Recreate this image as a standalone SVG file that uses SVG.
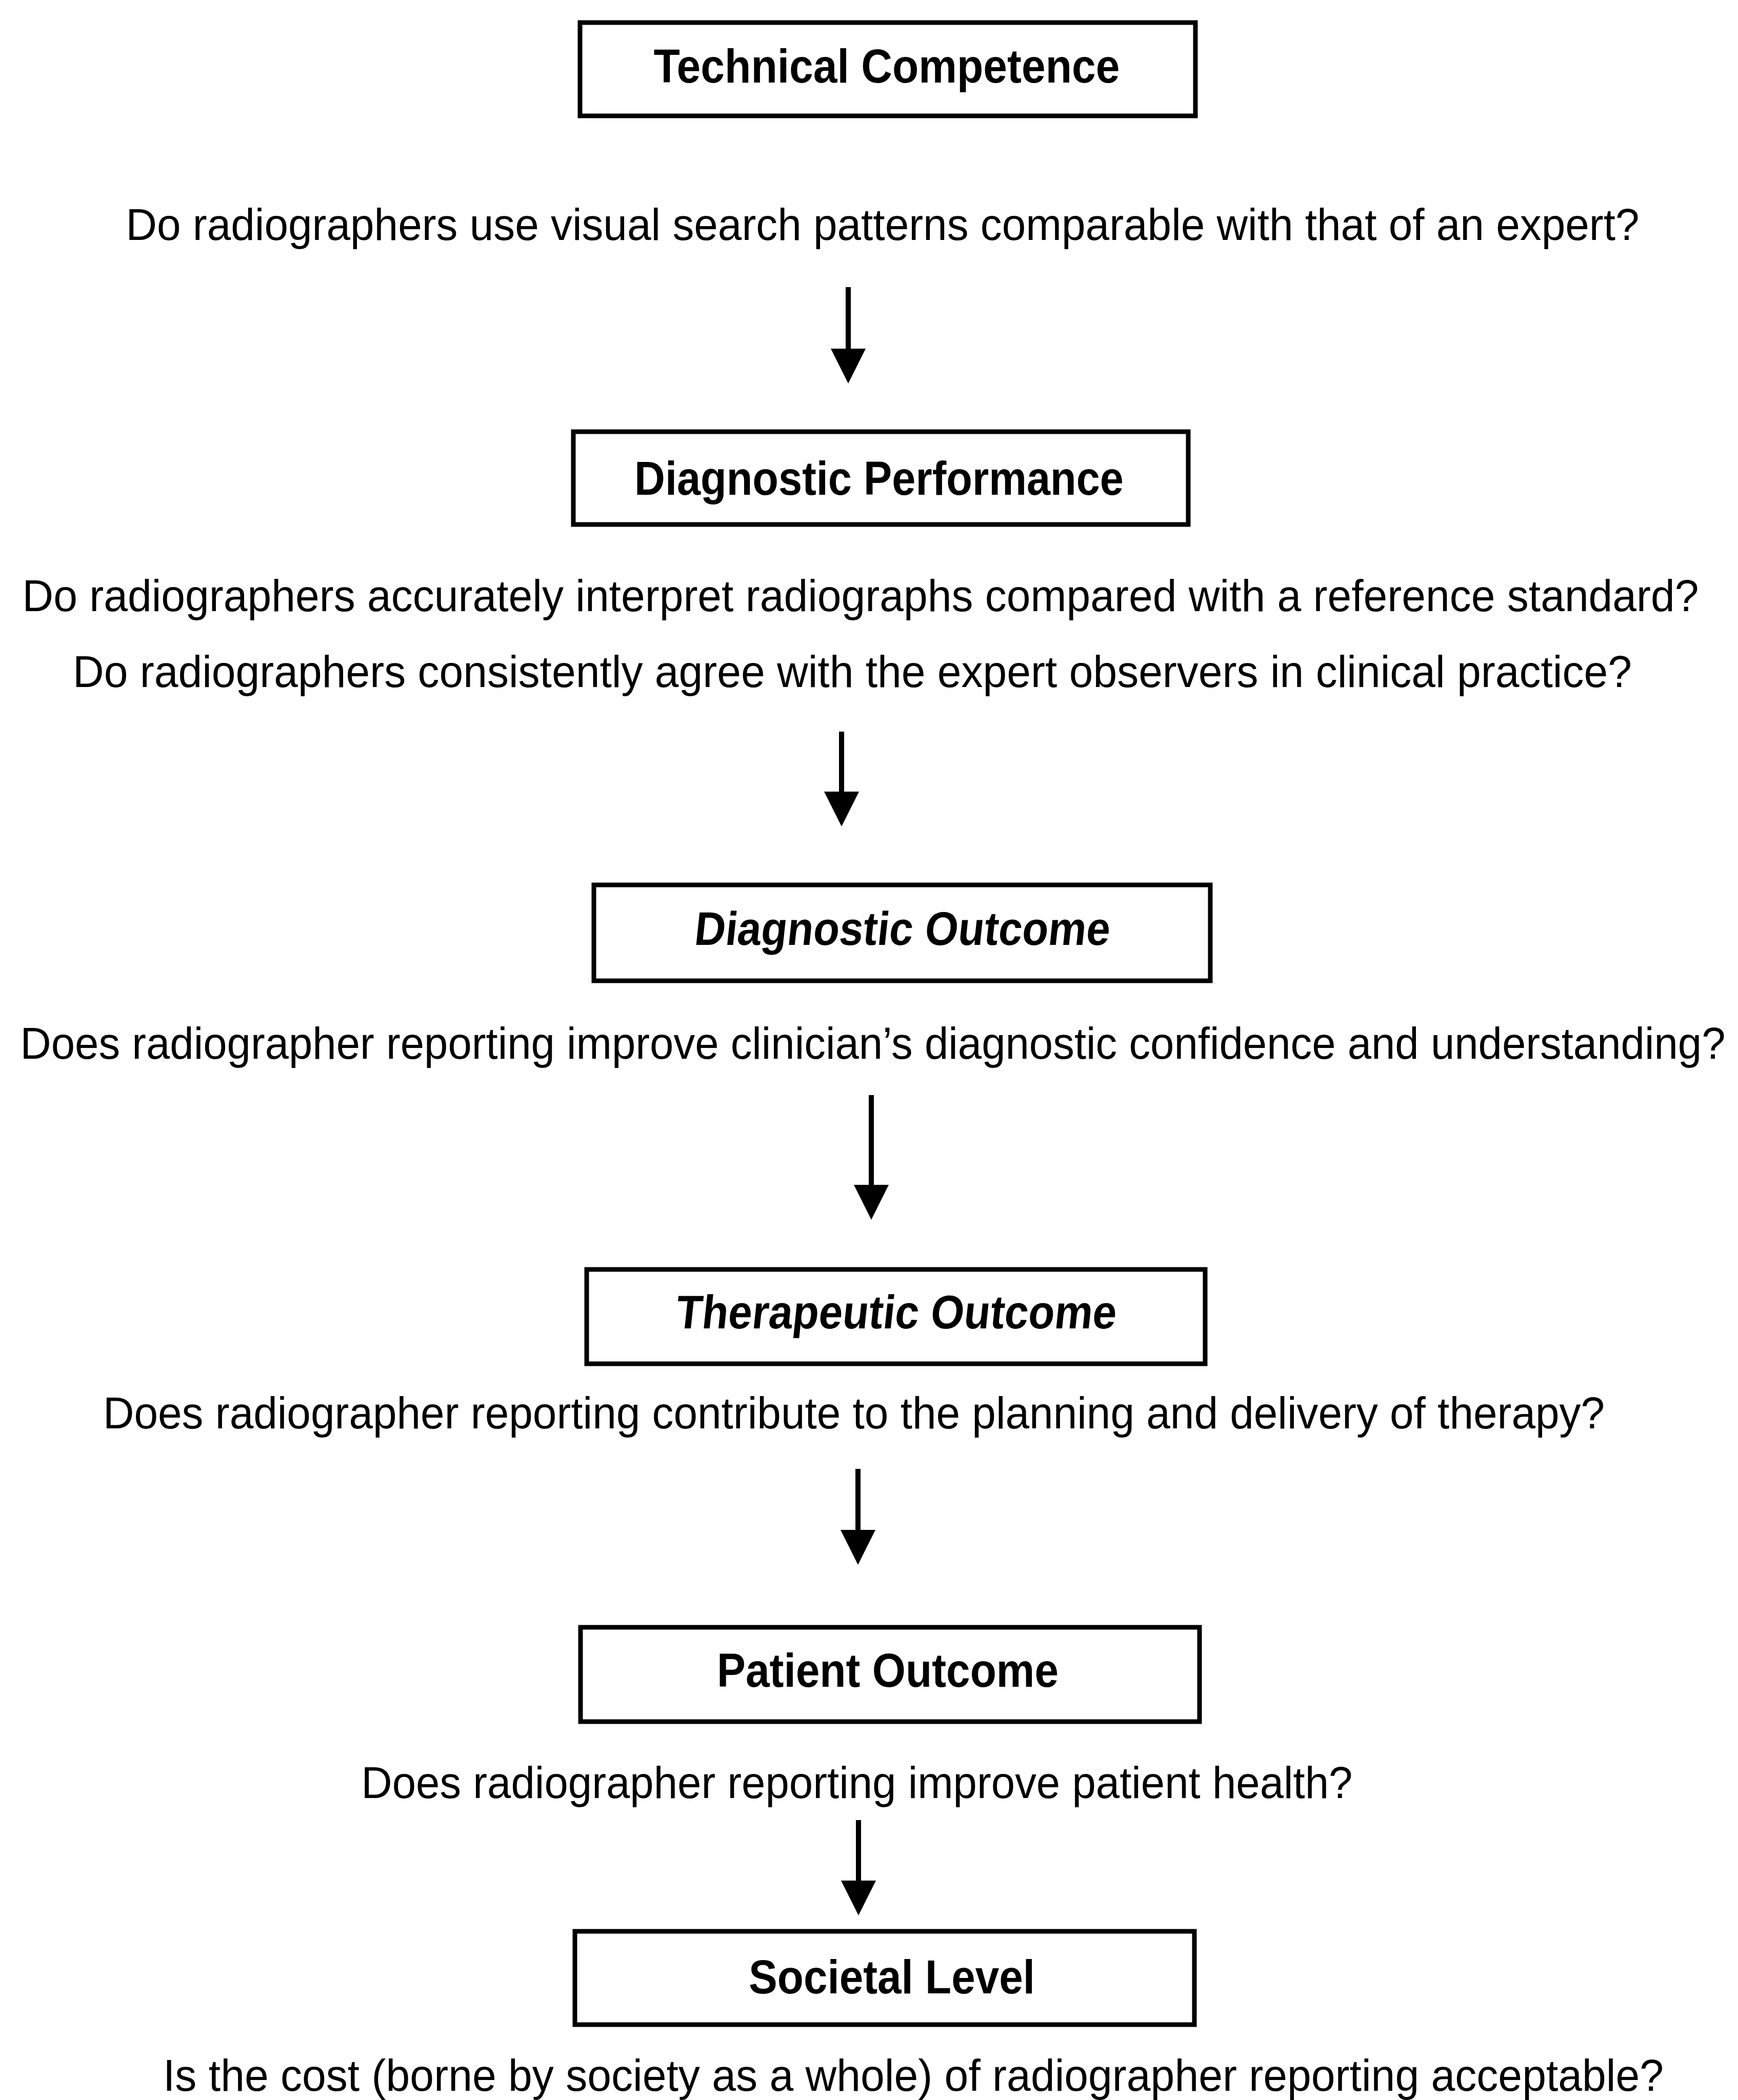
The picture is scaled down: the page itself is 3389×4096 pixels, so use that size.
<svg xmlns="http://www.w3.org/2000/svg" width="3389" height="4096" viewBox="0 0 3389 4096">
  <style>
    .box { fill: #ffffff; stroke: #000000; stroke-width: 9; }
    .title { font-family: "Liberation Sans", Arial, sans-serif; font-weight: bold; font-size: 92px; fill: #000000; text-anchor: middle; }
    .question { font-family: "Liberation Sans", Arial, sans-serif; font-size: 87px; fill: #000000; text-anchor: middle; }
    .shaft { stroke: #000000; stroke-width: 10; fill: none; }
  </style>
  <defs>
    <marker id="head" viewBox="0 -34 68 68" refX="0" refY="0" markerWidth="68" markerHeight="68" markerUnits="userSpaceOnUse" orient="auto">
      <polygon points="0,-34 68,0 0,34" fill="#000000"/>
    </marker>
  </defs>
  <rect width="3389" height="4096" fill="#ffffff"/>

  <!-- Level 1 -->
  <g id="technical-competence">
    <rect class="box" x="1131" y="44" width="1200" height="182"/>
    <text class="title" x="1729" y="161" textLength="909" lengthAdjust="spacingAndGlyphs">Technical Competence</text>
  </g>
  <text class="question" x="1721" y="468" textLength="2951" lengthAdjust="spacingAndGlyphs">Do radiographers use visual search patterns comparable with that of an expert?</text>

  <!-- Level 2 -->
  <g id="diagnostic-performance">
    <rect class="box" x="1118" y="842" width="1199" height="181"/>
    <text class="title" x="1714" y="965" textLength="954" lengthAdjust="spacingAndGlyphs">Diagnostic Performance</text>
  </g>
  <text class="question" x="1678" y="1192" textLength="3269" lengthAdjust="spacingAndGlyphs">Do radiographers accurately interpret radiographs compared with a reference standard?</text>
  <text class="question" x="1662" y="1340" textLength="3040" lengthAdjust="spacingAndGlyphs">Do radiographers consistently agree with the expert observers in clinical practice?</text>

  <!-- Level 3 -->
  <g id="diagnostic-outcome">
    <rect class="box" x="1158" y="1726" width="1202" height="187"/>
    <text class="title" transform="translate(1757,1843) skewX(-6)" x="0" y="0" textLength="810" lengthAdjust="spacingAndGlyphs">Diagnostic Outcome</text>
  </g>
  <text class="question" x="1702" y="2065" textLength="3325" lengthAdjust="spacingAndGlyphs">Does radiographer reporting improve clinician’s diagnostic confidence and understanding?</text>

  <!-- Level 4 -->
  <g id="therapeutic-outcome">
    <rect class="box" x="1144" y="2476" width="1206" height="184"/>
    <text class="title" transform="translate(1745,2591) skewX(-6)" x="0" y="0" textLength="859" lengthAdjust="spacingAndGlyphs">Therapeutic Outcome</text>
  </g>
  <text class="question" x="1665" y="2786" textLength="2928" lengthAdjust="spacingAndGlyphs">Does radiographer reporting contribute to the planning and delivery of therapy?</text>

  <!-- Level 5 -->
  <g id="patient-outcome">
    <rect class="box" x="1132" y="3174" width="1207" height="184"/>
    <text class="title" x="1731" y="3290" textLength="666" lengthAdjust="spacingAndGlyphs">Patient Outcome</text>
  </g>
  <text class="question" x="1671" y="3507" textLength="1933" lengthAdjust="spacingAndGlyphs">Does radiographer reporting improve patient health?</text>

  <!-- Level 6 -->
  <g id="societal-level">
    <rect class="box" x="1121" y="3767" width="1208" height="182"/>
    <text class="title" x="1739" y="3888" textLength="558" lengthAdjust="spacingAndGlyphs">Societal Level</text>
  </g>
  <text class="question" x="1781" y="4078" textLength="2926" lengthAdjust="spacingAndGlyphs">Is the cost (borne by society as a whole) of radiographer reporting acceptable?</text>

  <!-- Downward arrows between levels -->
  <g id="connectors">
    <line class="shaft" x1="1654" y1="560" x2="1654" y2="680" marker-end="url(#head)"/>
    <line class="shaft" x1="1641" y1="1427" x2="1641" y2="1544" marker-end="url(#head)"/>
    <line class="shaft" x1="1699" y1="2136" x2="1699" y2="2311" marker-end="url(#head)"/>
    <line class="shaft" x1="1673" y1="2865" x2="1673" y2="2984" marker-end="url(#head)"/>
    <line class="shaft" x1="1674" y1="3550" x2="1674" y2="3668" marker-end="url(#head)"/>
  </g>
</svg>
